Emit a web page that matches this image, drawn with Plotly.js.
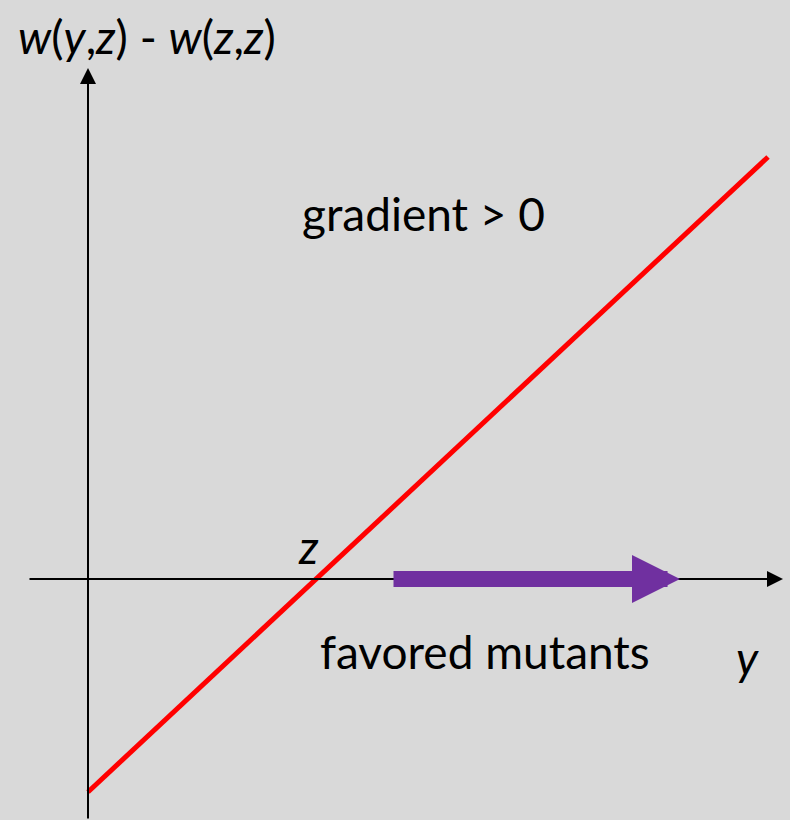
<!DOCTYPE html>
<html><head><meta charset="utf-8">
<script src="https://cdn.plot.ly/plotly-3.0.1.min.js"></script>
<style>html,body{margin:0;padding:0;background:#d9d9d9;}</style>
</head><body>
<div id="chart" style="width:790px;height:820px;"></div>
<script>
// Data (origin at axis intersection)
const lineX = [0, 680];
const lineY = [-213, 422];
const favoredStart = 304;
const favoredEnd = 592;
const axisXMin = -60, axisXMax = 695;
const axisYMin = -241, axisYMax = 511;

const font = "Lato, 'Open Sans', sans-serif";

const traces = [{
  x: lineX, y: lineY, mode: 'lines', type: 'scatter',
  line: {color: '#ff0000', width: 5}, hoverinfo: 'skip', showlegend: false
}];

const layout = {
  width: 790, height: 820,
  margin: {l: 0, r: 0, t: 0, b: 0},
  paper_bgcolor: '#d9d9d9', plot_bgcolor: '#d9d9d9',
  xaxis: {range: [-88, 702], visible: false, fixedrange: true},
  yaxis: {range: [-241, 579], visible: false, fixedrange: true},
  showlegend: false,
  annotations: [
    {x: axisXMax, y: 0, ax: axisXMin, ay: 0, xref: 'x', yref: 'y', axref: 'x', ayref: 'y',
     showarrow: true, arrowhead: 2, arrowsize: 1.6, arrowwidth: 2, arrowcolor: '#000', text: ''},
    {x: 0, y: axisYMax, ax: 0, ay: axisYMin, xref: 'x', yref: 'y', axref: 'x', ayref: 'y',
     showarrow: true, arrowhead: 2, arrowsize: 1.6, arrowwidth: 2, arrowcolor: '#000', text: ''},
    {x: favoredEnd, y: 0, ax: favoredStart, ay: 0, xref: 'x', yref: 'y', axref: 'x', ayref: 'y',
     showarrow: true, arrowhead: 2, arrowsize: 0.6, arrowwidth: 16, arrowcolor: '#7030a0', text: ''}
  ]
};

const px = (x, y, text, anchor) => ({
  x: x / 790, y: 1 - y / 820, xref: 'paper', yref: 'paper', text: text,
  showarrow: false, xanchor: anchor || 'left', yanchor: 'middle',
  font: {family: font, size: 46, color: '#000'}
});
layout.annotations.push(px(16, 36, '<i>w</i>(<i>y</i>,<i>z</i>) - <i>w</i>(<i>z</i>,<i>z</i>)'));
layout.annotations.push(px(300, 213, 'gradient > 0'));
layout.annotations.push(px(296, 546, '<i>z</i>'));
layout.annotations.push(px(318, 651, 'favored mutants'));
layout.annotations.push(px(734, 657, '<i>y</i>'));

Plotly.newPlot('chart', traces, layout, {displayModeBar: false, staticPlot: true});
</script>
</body></html>
